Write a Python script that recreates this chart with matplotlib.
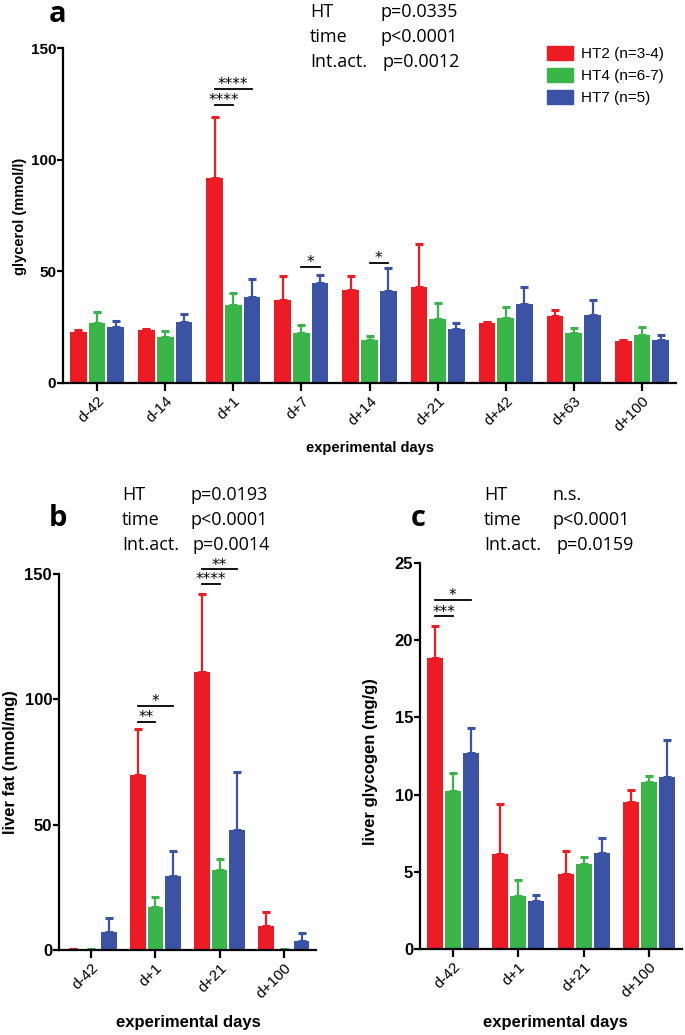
import matplotlib as mpl
mpl.use('Agg')
import matplotlib.pyplot as plt
from matplotlib.patches import Patch
import numpy as np

W, H = 685, 1035

groups = ['HT2 (n=3-4)', 'HT4 (n=6-7)', 'HT7 (n=5)']
colors = ['#ED1C24', '#39B54A', '#3A53A4']

# panel a: plasma glycerol
days_a = ['d-42', 'd-14', 'd+1', 'd+7', 'd+14', 'd+21', 'd+42', 'd+63', 'd+100']
glyc_mean = [[22.7, 23.9, 91.8, 37.3, 41.8, 43.0, 26.7, 30.0, 18.8],
             [26.9, 20.6, 34.9, 22.2, 19.3, 28.8, 29.1, 22.2, 21.3],
             [24.9, 27.3, 38.4, 44.6, 41.0, 24.0, 35.4, 30.6, 19.3]]
glyc_err = [[0.9, 0.4, 27.5, 10.6, 6.1, 19.2, 0.8, 2.7, 0.3],
            [5.0, 2.8, 5.4, 3.9, 1.6, 7.2, 4.9, 2.3, 3.9],
            [3.0, 3.4, 8.2, 3.8, 10.3, 3.0, 7.7, 6.4, 2.3]]
# (day index, group i, group j, bracket level, stars)
glyc_sig = [(2, 0, 1, 124.5, '****'), (2, 0, 2, 131.6, '****'),
            (3, 1, 2, 52.0, '*'), (4, 1, 2, 53.7, '*')]

# panel b: liver fat
days_bc = ['d-42', 'd+1', 'd+21', 'd+100']
fat_mean = [[0.5, 70.0, 111.0, 9.4],
            [0.5, 17.0, 31.9, 0.5],
            [7.0, 29.5, 47.9, 3.6]]
fat_err = [[0.0, 18.1, 31.1, 5.8],
           [0.0, 4.2, 4.4, 0.0],
           [5.8, 9.8, 23.1, 3.2]]
fat_sig = [(1, 0, 1, 90.9, '**'), (1, 0, 2, 97.4, '*'),
           (2, 0, 1, 146.0, '****'), (2, 0, 2, 151.9, '**')]

# panel c: liver glycogen
gly_mean = [[18.84, 6.16, 4.88, 9.54],
            [10.25, 3.43, 5.49, 10.80],
            [12.70, 3.08, 6.19, 11.17]]
gly_err = [[2.06, 3.23, 1.46, 0.76],
           [1.17, 1.03, 0.45, 0.42],
           [1.63, 0.42, 0.97, 2.36]]
gly_sig = [(0, 0, 1, 21.54, '***'), (0, 0, 2, 22.6, '*')]

stats_a = [('HT', 'p=0.0335'), ('time', 'p<0.0001'), ('Int.act.', 'p=0.0012')]
stats_b = [('HT', 'p=0.0193'), ('time', 'p<0.0001'), ('Int.act.', 'p=0.0014')]
stats_c = [('HT', 'n.s.'), ('time', 'p<0.0001'), ('Int.act.', 'p=0.0159')]

plt.rcParams['font.family'] = ['Liberation Sans', 'DejaVu Sans']

fig = plt.figure(figsize=(W / 100, H / 100), dpi=100, facecolor='white')


def px_axes(l, t, r, b):
    return fig.add_axes([l / W, 1 - b / H, (r - l) / W, (b - t) / H])


def fx(x):
    return x / W


def fy(y):
    return 1 - y / H


off = [-0.275, 0.0, 0.275]
bw = 0.245


def bar_panel(ax, days, means, errs, sigs, ymax, yticks, tfs):
    x = np.arange(len(days))
    for k in range(3):
        ax.bar(x + off[k], means[k], width=bw, color=colors[k], linewidth=0, zorder=2)
        ax.errorbar(x + off[k], means[k], yerr=[np.zeros(len(days)), errs[k]],
                    fmt='none', ecolor=colors[k], elinewidth=1.6, capsize=2.8,
                    capthick=2.2, zorder=1)
    for d, i, j, lev, st in sigs:
        x0, x1 = d + off[i], d + off[j]
        ax.plot([x0, x1], [lev, lev], color='black', lw=1.3, clip_on=False)
        ax.annotate(st, xy=((x0 + x1) / 2, lev), xytext=(0, 3),
                    textcoords='offset points', ha='center', va='center',
                    fontsize=11, family='DejaVu Sans', annotation_clip=False)
    ax.set_xlim(-0.5, len(days) - 0.5)
    ax.set_ylim(0, ymax)
    ax.set_yticks(yticks)
    ax.set_xticks(x)
    ax.set_xticklabels(days, rotation=45, ha='right', rotation_mode='anchor', fontsize=11)
    for t in ax.get_yticklabels():
        t.set_fontweight('bold')
        t.set_fontsize(tfs)
    ax.spines['right'].set_visible(False)
    ax.spines['top'].set_visible(False)
    ax.spines['left'].set_linewidth(1.6)
    ax.spines['bottom'].set_linewidth(1.6)
    ax.tick_params(axis='y', direction='out', length=4, width=1.6, pad=1)
    ax.tick_params(axis='x', direction='out', length=6, width=1.6, pad=2)


# panel a
axa = px_axes(63, 48, 676, 383)
bar_panel(axa, days_a, glyc_mean, glyc_err, glyc_sig, 150, [0, 50, 100, 150], 11)
fig.text(fx(20), fy(216), 'glycerol (mmol/l)', rotation=90, ha='center', va='center',
         fontsize=10.5, fontweight='bold')
fig.text(fx(370), fy(448), 'experimental days', ha='center', va='center',
         fontsize=10.5, fontweight='bold')
fig.text(fx(58), fy(14), 'a', ha='center', va='center', fontsize=21, fontweight='bold',
         family='Open Sans')
for r, (k, v) in enumerate(stats_a):
    xv = 383 if r == 2 else 381
    fig.text(fx(310), fy(12 + 25 * r), k, ha='left', va='center', fontsize=13, family='Open Sans')
    fig.text(fx(xv), fy(12 + 25 * r), v, ha='left', va='center', fontsize=13, family='Open Sans')

handles = [Patch(facecolor=c, edgecolor=c) for c in colors]
fig.legend(handles, groups, loc='upper left', bbox_to_anchor=(fx(541), fy(40)),
           frameon=False, fontsize=11, handlelength=1.7, handleheight=1.0,
           labelspacing=0.45, handletextpad=0.5, borderaxespad=0)

# panel b
axb = px_axes(59, 574, 316, 950)
bar_panel(axb, days_bc, fat_mean, fat_err, fat_sig, 150, [0, 50, 100, 150], 12)
fig.text(fx(11), fy(762), 'liver fat (nmol/mg)', rotation=90, ha='center', va='center',
         fontsize=12, fontweight='bold')
fig.text(fx(188), fy(1023), 'experimental days', ha='center', va='center',
         fontsize=12, fontweight='bold')
fig.text(fx(58), fy(518), 'b', ha='center', va='center', fontsize=21, fontweight='bold',
         family='Open Sans')
for r, (k, v) in enumerate(stats_b):
    xv = 193 if r == 2 else 190
    fig.text(fx(122), fy(495 + 25 * r), k, ha='left', va='center', fontsize=13, family='Open Sans')
    fig.text(fx(xv), fy(495 + 25 * r), v, ha='left', va='center', fontsize=13, family='Open Sans')

# panel c
axc = px_axes(420, 563, 682, 949)
bar_panel(axc, days_bc, gly_mean, gly_err, gly_sig, 25, [0, 5, 10, 15, 20, 25], 12)
fig.text(fx(370), fy(762), 'liver glycogen (mg/g)', rotation=90, ha='center', va='center',
         fontsize=12, fontweight='bold')
fig.text(fx(555), fy(1023), 'experimental days', ha='center', va='center',
         fontsize=12, fontweight='bold')
fig.text(fx(418), fy(518), 'c', ha='center', va='center', fontsize=21, fontweight='bold',
         family='Open Sans')
for r, (k, v) in enumerate(stats_c):
    xv = 556 if r == 2 else 553
    fig.text(fx(484), fy(495 + 25 * r), k, ha='left', va='center', fontsize=13, family='Open Sans')
    fig.text(fx(xv), fy(495 + 25 * r), v, ha='left', va='center', fontsize=13, family='Open Sans')

fig.savefig('out.png', dpi=100, facecolor='white')
